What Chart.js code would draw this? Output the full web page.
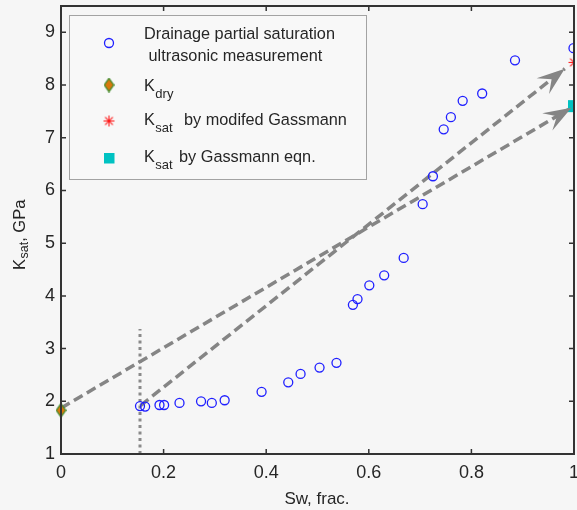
<!DOCTYPE html>
<html><head><meta charset="utf-8">
<style>html,body{margin:0;padding:0;background:#f6f6f6;}#wrap{width:577px;height:510px;}</style>
<script src="https://cdn.jsdelivr.net/npm/chart.js@4.4.1/dist/chart.umd.min.js"></script>
</head><body><div id="wrap"><canvas id="c" width="577" height="510"></canvas></div>
<script>
// ---- data ----
const swMeasured   = [0.154,0.164,0.192,0.201,0.231,0.273,0.294,0.319,0.391,0.443,0.467,0.504,0.537,0.569,0.578,0.601,0.630,0.668,0.705,0.725,0.746,0.760,0.783,0.821,0.885,0.999];
const ksatMeasured = [1.91,1.90,1.93,1.93,1.97,2.00,1.97,2.02,2.18,2.36,2.52,2.64,2.73,3.83,3.94,4.20,4.39,4.72,5.74,6.27,7.16,7.39,7.70,7.84,8.47,8.70];
const kdrySw = [0];        const kdryK = [1.83];
const ksatModSw = [1];     const ksatModK = [8.43];
const ksatGassSw = [1];    const ksatGassK = [7.60];
const arrow1Sw = [0, 0.995];     const arrow1K = [1.87, 7.57];
const arrow2Sw = [0.155, 0.982]; const arrow2K = [1.92, 8.31];
const swiSw = [0.154, 0.154];    const swiK = [1, 3.37];
const xTicks = [0, 0.2, 0.4, 0.6, 0.8, 1];
const xTickLabels = ['0', '0.2', '0.4', '0.6', '0.8', '1'];
const yTicks = [1, 2, 3, 4, 5, 6, 7, 8, 9];
const legendLabels = ['Drainage partial saturation', ' ultrasonic measurement', 'K', 'dry', 'K', 'sat', 'by modifed Gassmann', 'K', 'sat', 'by Gassmann eqn.'];
const xTitle = 'Sw, frac.';
const yTitleParts = ['K', 'sat', ', GPa'];

const FONT = "'Liberation Sans', Arial, sans-serif";
const TXT = '#262626';
const GRAY = '#858585';

function pts(xs, ys){ return xs.map((x,i)=>({x:x, y:ys[i]})); }

function diamondImg(){
  const c=document.createElement('canvas'); c.width=11; c.height=15;
  const g=c.getContext('2d');
  g.beginPath(); g.moveTo(5.5,0.8); g.lineTo(10.2,7.5); g.lineTo(5.5,14.2); g.lineTo(0.8,7.5); g.closePath();
  g.fillStyle='#d9780c'; g.fill(); g.lineWidth=1.3; g.strokeStyle='#3f8a2a'; g.stroke();
  return c;
}
function starImg(){
  const c=document.createElement('canvas'); c.width=13; c.height=13;
  const g=c.getContext('2d'); g.strokeStyle='#ff1a1a'; g.lineWidth=1.1;
  const r=5.5, cx=6.5, cy=6.5;
  for(let k=0;k<4;k++){ const a=k*Math.PI/4; g.beginPath(); g.moveTo(cx-r*Math.cos(a),cy-r*Math.sin(a)); g.lineTo(cx+r*Math.cos(a),cy+r*Math.sin(a)); g.stroke(); }
  return c;
}
const DIA = diamondImg(), STAR = starImg();

const decor = {
  id:'decor',
  beforeDraw(chart){
    const ctx=chart.ctx; ctx.save(); ctx.fillStyle='#f6f6f6'; ctx.fillRect(0,0,chart.width,chart.height); ctx.restore();
  },
  afterDatasetsDraw(chart){
    const ctx=chart.ctx, xs=chart.scales.x, ys=chart.scales.y, a=chart.chartArea;
    function head(sx,sy,ex,ey){
      const x0=xs.getPixelForValue(sx), y0=ys.getPixelForValue(sy), x1=xs.getPixelForValue(ex), y1=ys.getPixelForValue(ey);
      const ang=Math.atan2(y1-y0,x1-x0), L=28, W=10;
      ctx.save(); ctx.translate(x1,y1); ctx.rotate(ang);
      ctx.beginPath(); ctx.moveTo(0,0); ctx.lineTo(-L,W); ctx.lineTo(-L*0.6,0); ctx.lineTo(-L,-W); ctx.closePath();
      ctx.fillStyle=GRAY; ctx.fill(); ctx.restore();
    }
    head(arrow1Sw[0],arrow1K[0],arrow1Sw[1],arrow1K[1]);
    head(arrow2Sw[0],arrow2K[0],arrow2Sw[1],arrow2K[1]);
    ctx.save(); ctx.strokeStyle='#333'; ctx.lineWidth=2;
    ctx.strokeRect(a.left,a.top,a.right-a.left,a.bottom-a.top);
    ctx.lineWidth=1.5; ctx.beginPath();
    xTicks.forEach(v=>{const p=xs.getPixelForValue(v); ctx.moveTo(p,a.bottom); ctx.lineTo(p,a.bottom-5); ctx.moveTo(p,a.top); ctx.lineTo(p,a.top+5);});
    yTicks.forEach(v=>{const p=ys.getPixelForValue(v); ctx.moveTo(a.left,p); ctx.lineTo(a.left+5,p); ctx.moveTo(a.right,p); ctx.lineTo(a.right-5,p);});
    ctx.stroke(); ctx.restore();
  },
  afterDraw(chart){
    const ctx=chart.ctx;
    ctx.save();
    ctx.fillStyle='#f8f8f8'; ctx.fillRect(69.5,15.5,297,164);
    ctx.strokeStyle='#a3a3a3'; ctx.lineWidth=1; ctx.strokeRect(69.5,15.5,297,164);
    ctx.fillStyle=TXT; ctx.textBaseline='alphabetic'; ctx.textAlign='left';
    const big='16.3px '+FONT, sub='13px '+FONT;
    ctx.font=big;
    ctx.fillText(legendLabels[0],144,39);
    ctx.fillText(legendLabels[1],144,61);
    function ksub(k,s,rest,base,restX){
      ctx.font=big; ctx.fillText(k,144,base); const w=ctx.measureText(k).width;
      ctx.font=sub; ctx.fillText(s,144+w+0.5,base+7);
      if(rest){ ctx.font=big; ctx.fillText(rest,restX,base); }
    }
    ksub(legendLabels[2],legendLabels[3],null,91);
    ksub(legendLabels[4],legendLabels[5],legendLabels[6],125,184);
    ksub(legendLabels[7],legendLabels[8],legendLabels[9],162,179);
    ctx.beginPath(); ctx.arc(109,43,4.5,0,Math.PI*2); ctx.strokeStyle='#1f1fff'; ctx.lineWidth=1.3; ctx.stroke();
    ctx.drawImage(DIA,109-DIA.width/2,85-DIA.height/2);
    ctx.drawImage(STAR,109-STAR.width/2,121-STAR.height/2);
    ctx.fillStyle='#00c2c2'; ctx.fillRect(104,153,10.5,10.5);
    ctx.fillStyle=TXT; ctx.font='17px '+FONT; ctx.textAlign='center';
    ctx.fillText(xTitle,317,504);
    ctx.save(); ctx.translate(25,270); ctx.rotate(-Math.PI/2); ctx.textAlign='left';
    ctx.font='16.5px '+FONT; ctx.fillText(yTitleParts[0],0,0); let w=ctx.measureText(yTitleParts[0]).width;
    ctx.font='12.5px '+FONT; ctx.fillText(yTitleParts[1],w+0.5,3); w+=ctx.measureText(yTitleParts[1]).width+0.5;
    ctx.font='16.5px '+FONT; ctx.fillText(yTitleParts[2],w,0);
    ctx.restore();
    ctx.restore();
  }
};

function noEdgePadding(s){
  s._calculatePadding = function(){ this.paddingLeft=0; this.paddingRight=0; this.paddingTop=0; this.paddingBottom=0; };
}

new Chart(document.getElementById('c'),{
  type:'scatter',
  data:{datasets:[
    {label:'Drainage partial saturation ultrasonic measurement', data:pts(swMeasured,ksatMeasured), pointStyle:'circle', pointRadius:4.5, pointBorderWidth:1.3, borderColor:'#1f1fff', backgroundColor:'rgba(0,0,0,0)', clip:0, order:1},
    {label:'Kdry', data:pts(kdrySw,kdryK), pointStyle:DIA, pointRadius:7, clip:false, order:0},
    {label:'Ksat by modifed Gassmann', data:pts(ksatModSw,ksatModK), pointStyle:STAR, pointRadius:6, clip:0, order:1},
    {label:'Ksat by Gassmann eqn.', data:pts(ksatGassSw,ksatGassK), pointStyle:'rect', pointRadius:8.5, backgroundColor:'#00c2c2', borderColor:'#00c2c2', pointBorderWidth:0, clip:0, order:1},
    {type:'line', data:pts(arrow1Sw,arrow1K), showLine:true, borderColor:GRAY, borderWidth:3.5, borderDash:[10,5], pointRadius:0, clip:false, order:2},
    {type:'line', data:pts(arrow2Sw,arrow2K), showLine:true, borderColor:GRAY, borderWidth:3.5, borderDash:[10,5], pointRadius:0, clip:false, order:2},
    {type:'line', data:pts(swiSw,swiK), showLine:true, borderColor:'#8a8a8a', borderWidth:3, borderDash:[3,3.5], pointRadius:0, clip:false, order:2}
  ]},
  options:{
    responsive:false, animation:false, devicePixelRatio:1,
    layout:{autoPadding:false, padding:{top:6,right:3,left:0,bottom:0}},
    plugins:{legend:{display:false}, tooltip:{enabled:false}},
    scales:{
      x:{type:'linear', min:0, max:1,
         ticks:{stepSize:0.2, includeBounds:false, padding:8, maxRotation:0, color:TXT, font:{family:FONT,size:18},
                callback:(v)=>{ const i=xTicks.indexOf(v); return i>=0?xTickLabels[i]:String(v); }},
         grid:{display:false, drawTicks:false}, border:{display:false},
         afterBuildTicks(s){ s.ticks = xTicks.map(v=>({value:v})); noEdgePadding(s); },
         afterFit(s){ s.height=56; s.paddingLeft=0; s.paddingRight=0; }},
      y:{type:'linear', min:1, max:9.5,
         ticks:{stepSize:1, includeBounds:false, padding:6, color:TXT, font:{family:FONT,size:18}},
         grid:{display:false, drawTicks:false}, border:{display:false},
         afterBuildTicks(s){ s.ticks = yTicks.map(v=>({value:v})); noEdgePadding(s); },
         afterFit(s){ s.width=61; s.paddingTop=0; s.paddingBottom=0; }}
    }
  },
  plugins:[decor]
});
</script></body></html>
